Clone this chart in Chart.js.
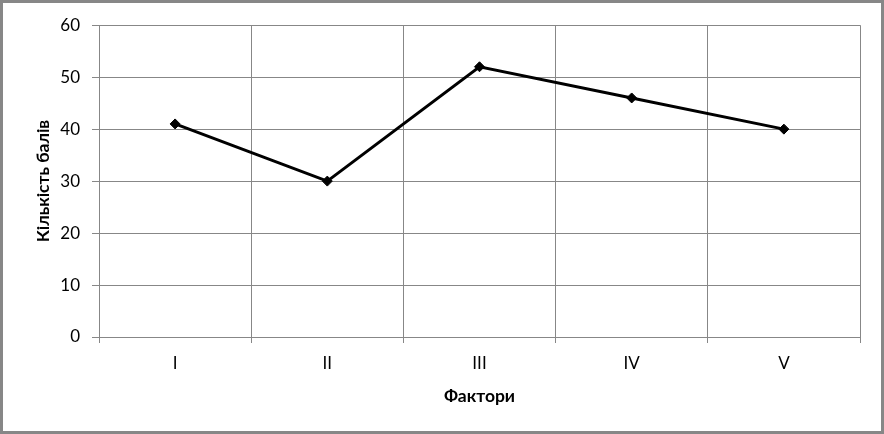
<!DOCTYPE html>
<html>
<head>
<meta charset="utf-8">
<script src="https://cdn.jsdelivr.net/npm/chart.js@4/dist/chart.umd.min.js"></script>
<style>
  html, body { margin: 0; padding: 0; background: #fff; }
  #wrap { width: 884px; height: 434px; box-sizing: border-box; border: 3px solid #878787; background: #fff; }
  #graph { display: block; }
</style>
</head>
<body>
<div id="wrap"><canvas id="graph" width="878" height="428"></canvas></div>
<script>
const factors = ['I', 'II', 'III', 'IV', 'V'];
const scores = [41, 30, 52, 46, 40];
const yTicks = [0, 10, 20, 30, 40, 50, 60];

const gridColor = '#878787';
const fontFamily = 'Lato, "Liberation Sans", sans-serif';

const ctx = document.getElementById('graph');
var config = {
    type: 'line',
    data: {
        labels: factors,
        datasets: [{
            label: 'Кількість балів',
            data: scores,
            borderColor: '#000',
            backgroundColor: '#000',
            borderWidth: 3,
            pointStyle: 'rectRot',
            pointRadius: 5,
            pointBorderWidth: 1,
            tension: 0,
            fill: false
        }]
    },
    options: {
        responsive: false,
        animation: false,
        layout: { padding: { top: 21, right: 21, left: 0, bottom: 0 } },
        plugins: {
            legend: { display: false },
            tooltip: { enabled: false }
        },
        scales: {
            x: {
                offset: true,
                grid: { offset: true, color: gridColor, lineWidth: 1, tickLength: 6 },
                border: { color: gridColor },
                ticks: { color: '#000', padding: 10, font: { family: fontFamily, size: 17 } },
                title: {
                    display: true, text: 'Фактори', color: '#000',
                    padding: { top: 0, bottom: 24.5 },
                    font: { family: fontFamily, size: 17.5, weight: 'bold' }
                },
                afterFit: (scale) => { scale.height = 94; }
            },
            y: {
                min: 0,
                max: 60,
                afterBuildTicks: (scale) => { scale.ticks = yTicks.map(v => ({ value: v })); },
                grid: { color: gridColor, lineWidth: 1, tickLength: 7 },
                border: { color: gridColor },
                ticks: { color: '#000', padding: 12, font: { family: fontFamily, size: 17 } },
                title: {
                    display: true, text: 'Кількість балів', color: '#000',
                    padding: { top: 29.5, bottom: 0 },
                    font: { family: fontFamily, size: 17.5, weight: 'bold' }
                },
                afterFit: (scale) => { scale.width = 96; }
            }
        }
    }
};
var chart = new Chart(ctx, config);
</script>
</body>
</html>
